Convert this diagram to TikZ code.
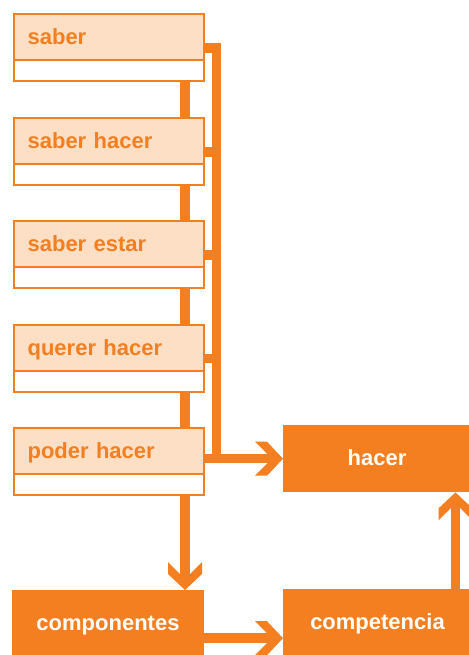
\documentclass[tikz,border=0pt]{standalone}
\usepackage{fontspec}
\setmainfont{Liberation Sans}
\definecolor{myor}{RGB}{243,127,33}
\definecolor{mylt}{RGB}{253,223,197}
\pgfdeclarearrow{
  name = Chev,
  setup code = {
    \pgfarrowssettipend{0pt}
    \pgfarrowssetlineend{-10pt}
    \pgfarrowssetvisualtipend{0pt}
    \pgfarrowssetbackend{-28pt}
    \pgfarrowssetvisualbackend{-28pt}
    \pgfarrowshullpoint{0pt}{0pt}
    \pgfarrowshullpoint{-28pt}{17pt}
    \pgfarrowshullpoint{-28pt}{-17pt}
  },
  drawing code = {
    \pgfpathmoveto{\pgfpointorigin}
    \pgfpathlineto{\pgfpoint{-16pt}{17pt}}
    \pgfpathlineto{\pgfpoint{-28pt}{17pt}}
    \pgfpathlineto{\pgfpoint{-11pt}{0pt}}
    \pgfpathlineto{\pgfpoint{-28pt}{-17pt}}
    \pgfpathlineto{\pgfpoint{-16pt}{-17pt}}
    \pgfpathclose
    \pgfusepathqfill
  }
}
\begin{document}
\begin{tikzpicture}[x=1pt,y=-1pt,
  lbl/.style={draw=myor, fill=mylt, line width=2.2pt, minimum width=190pt,
    minimum height=46pt, anchor=north west, inner xsep=13.5pt, text width=163pt,
    align=left, text height=16pt, text depth=1pt, text=myor,
    font=\fontsize{22}{24}\selectfont\bfseries},
  strip/.style={draw=myor, fill=white, line width=2.2pt, minimum width=190pt,
    minimum height=21pt, anchor=north west, inner sep=0pt},
  solid box/.style={fill=myor, inner sep=0pt, text=white,
    font=\fontsize{22}{24}\selectfont\bfseries},
  bus/.style={draw=myor, line width=9.5pt, line join=miter},
  arr/.style={color=myor, line width=9.5pt, -Chev}
]
\useasboundingbox (0,0) rectangle (468,655);

\coordinate (lt) at (185,0);
\coordinate (rt) at (216.5,0);
\coordinate (ur) at (455.5,0);

% solid boxes
\node[solid box, minimum width=188pt, minimum height=67pt, anchor=north west] (hac) at (283,425) {};
\node[text=white, font=\fontsize{22}{24}\selectfont\bfseries, inner sep=0pt, anchor=base] at (377,465) {hacer};
\node[solid box, minimum width=188pt, minimum height=68pt, anchor=north west] (cpt) at (283,589) {};
\node[text=white, font=\fontsize{22}{24}\selectfont\bfseries, inner sep=0pt, anchor=base] at (377.5,629) {competencia};
\node[solid box, minimum width=192pt, minimum height=67pt, anchor=north west] (cmp) at (12,590) {};
\node[text=white, font=\fontsize{22}{24}\selectfont\bfseries, inner sep=0pt, anchor=base] at (108,630) {componentes};

% left trunk (behind boxes)
\draw[arr] (lt |- 0,80) -- (cmp.north -| lt);

% right bus
\draw[bus] (203,47.5) -| (hac.west -| rt);

% component boxes
\foreach \i/\t/\txt in {1/13/saber, 2/117/saber hacer, 3/220/saber estar, 4/323.5/querer hacer, 5/427/poder hacer}{
  \node[lbl] (b\i) at (13,\t) {\txt};
  \node[strip] (s\i) at (13,\t+46) {};
}

% branches
\draw[bus] ([yshift=-11pt]b1.east) -- ([yshift=-11pt]b1.east -| rt);
\draw[bus] ([yshift=-11pt]b2.east) -- ([yshift=-11pt]b2.east -| rt);
\draw[bus] ([yshift=-11pt]b3.east) -- ([yshift=-11pt]b3.east -| rt);
\draw[bus] ([yshift=-11pt]b4.east) -- ([yshift=-11pt]b4.east -| rt);

% arrows
\draw[arr] (b5.east |- hac.west) -- (hac.west);
\draw[arr] (cpt.north -| ur) -- (hac.south -| ur);
\draw[arr] ([yshift=-14.5pt]cmp.east) -- ([yshift=-14.5pt]cmp.east -| cpt.west);
\end{tikzpicture}
\end{document}
